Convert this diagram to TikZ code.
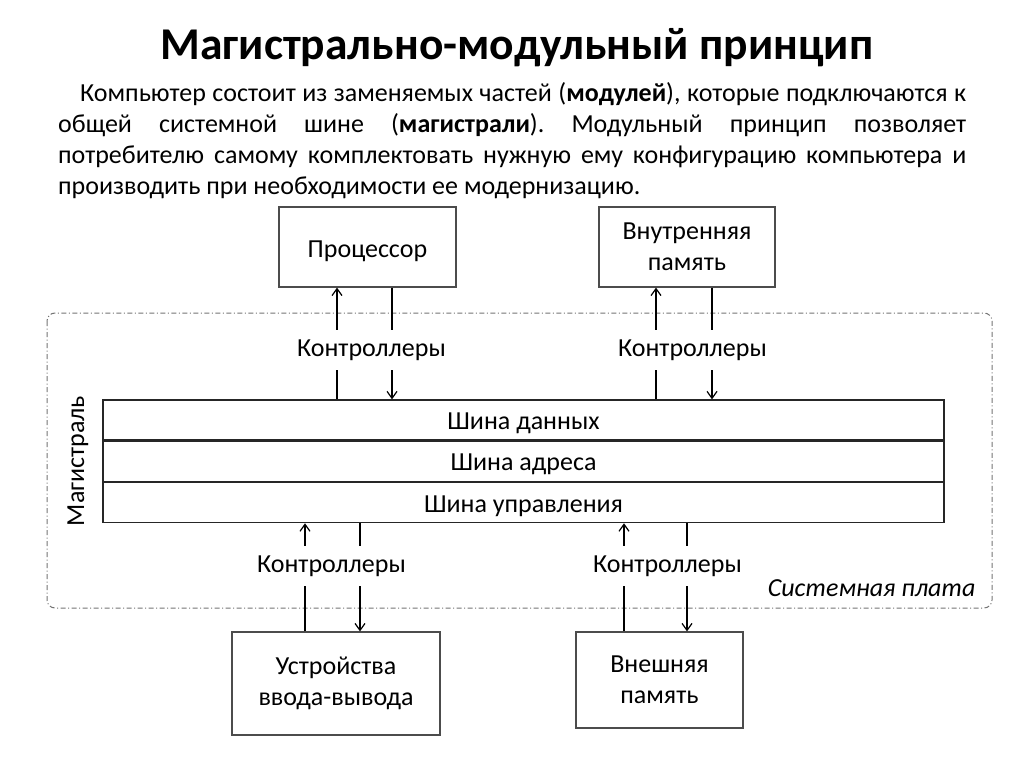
\documentclass[tikz,border=0pt]{standalone}
\usepackage{fontspec}
\setmainfont{Carlito}
\usetikzlibrary{arrows.meta, positioning}
\frenchspacing

\begin{document}
\begin{tikzpicture}[
    x=1pt, y=-1pt,
    every node/.style={font=\fontsize{26}{31}\selectfont},
    module/.style={draw=black!70, line width=1.2pt, align=center, inner sep=0pt,
      execute at begin node=\rule{0pt}{25pt}},
    busrow/.style={draw=black!85, line width=1.3pt, minimum width=841pt, minimum height=40pt, inner sep=0pt,
      execute at begin node=\rule{0pt}{23pt}},
    ctl/.style={minimum height=40pt, inner sep=0pt},
    arrow/.style={-{Straight Barb[length=7pt, width=10pt]}, line width=1.2pt},
    link/.style={line width=1.2pt},
    board/.style={draw=black!55, line width=1pt, rounded corners=8pt, dash pattern=on 5pt off 2.5pt on 1pt off 2.5pt}
]
\useasboundingbox (0,0) rectangle (1024,768);

% Title and text
\node[font=\fontsize{45.5}{52}\selectfont\bfseries] (title) at (517,48) {Магистрально-модульный принцип};
\node[anchor=north west, text width=908pt, align=justify, inner sep=0pt] (intro) at (58,82)
  {\hspace*{22pt}Компьютер состоит из заменяемых частей (\textbf{модулей}), которые подключаются к\linebreak
   общей системной шине (\textbf{магистрали}). Модульный принцип позволяет\linebreak
   потребителю самому комплектовать нужную ему конфигурацию компьютера и\linebreak
   производить при необходимости ее модернизацию.};

% System board
\draw[board] (47,313) rectangle (992,608);
\node[rotate=90] (mag) at (78,461) {Магистраль};
\node[anchor=east, font=\fontsize{26}{31}\selectfont\itshape] (plate) at (979,588) {Системная плата};

% Bus
\node[busrow] (bdata) at (523.5,420) {Шина данных};
\node[busrow, below=0pt of bdata] (baddr) {Шина адреса};
\node[busrow, below=0pt of baddr] (bctrl) {Шина управления};

% Modules
\node[module, minimum width=177pt, minimum height=80pt] (proc) at (367.5,247) {Процессор};
\node[module, minimum width=176pt, minimum height=80pt] (mem) at (687,247) {Внутренняя\\память};
\node[module, minimum width=208pt, minimum height=103pt] (io) at (336,683.5) {Устройства\\ввода-вывода};
\node[module, minimum width=167pt, minimum height=96pt] (ext) at (659.5,680) {Внешняя\\память};

% Controllers
\node[ctl] (ctlA) at (371.5,350) {Контроллеры};
\node[ctl] (ctlB) at (692.5,350) {Контроллеры};
\node[ctl] (ctlC) at (331.5,566) {Контроллеры};
\node[ctl] (ctlD) at (667.5,566) {Контроллеры};

\coordinate (procup) at ([xshift=-30.5pt]proc.south);
\coordinate (procdn) at ([xshift=24.5pt]proc.south);
\coordinate (memup) at ([xshift=-31pt]mem.south);
\coordinate (memdn) at ([xshift=25pt]mem.south);
\coordinate (ioup) at ([xshift=-31pt]io.north);
\coordinate (iodn) at ([xshift=24pt]io.north);
\coordinate (extup) at ([xshift=-35.5pt]ext.north);
\coordinate (extdn) at ([xshift=27.5pt]ext.north);

% Upper links
\draw[link] (procup |- bdata.north) -- (procup |- ctlA.south);
\draw[arrow] (procup |- ctlA.north) -- (procup);
\draw[link] (procdn) -- (procdn |- ctlA.north);
\draw[arrow] (procdn |- ctlA.south) -- (procdn |- bdata.north);

\draw[link] (memup |- bdata.north) -- (memup |- ctlB.south);
\draw[arrow] (memup |- ctlB.north) -- (memup);
\draw[link] (memdn) -- (memdn |- ctlB.north);
\draw[arrow] (memdn |- ctlB.south) -- (memdn |- bdata.north);

% Lower links
\draw[link] (ioup) -- (ioup |- ctlC.south);
\draw[arrow] (ioup |- ctlC.north) -- (ioup |- bctrl.south);
\draw[link] (iodn |- bctrl.south) -- (iodn |- ctlC.north);
\draw[arrow] (iodn |- ctlC.south) -- (iodn);

\draw[link] (extup) -- (extup |- ctlD.south);
\draw[arrow] (extup |- ctlD.north) -- (extup |- bctrl.south);
\draw[link] (extdn |- bctrl.south) -- (extdn |- ctlD.north);
\draw[arrow] (extdn |- ctlD.south) -- (extdn);

\end{tikzpicture}
\end{document}
